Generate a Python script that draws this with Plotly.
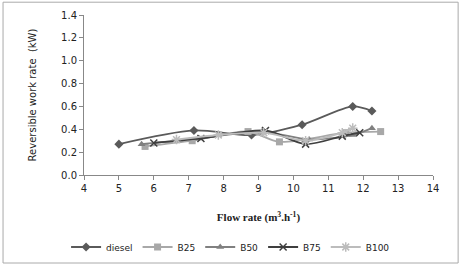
import plotly.graph_objects as go

diesel_x = [5.0, 7.15, 8.8, 10.25, 11.7, 12.25]
diesel_y = [0.27, 0.39, 0.35, 0.44, 0.60, 0.56]
b25_x = [5.75, 7.1, 8.7, 9.6, 11.5, 12.5]
b25_y = [0.25, 0.30, 0.38, 0.29, 0.37, 0.38]
b50_x = [5.65, 7.3, 9.1, 10.45, 11.7, 12.25]
b50_y = [0.27, 0.32, 0.38, 0.31, 0.35, 0.41]
b75_x = [6.0, 7.35, 9.2, 10.35, 11.4, 11.9]
b75_y = [0.28, 0.32, 0.39, 0.27, 0.34, 0.37]
b100_x = [6.65, 7.85, 9.15, 10.35, 11.4, 11.7]
b100_y = [0.31, 0.35, 0.37, 0.30, 0.37, 0.41]

x_ticks = [4, 5, 6, 7, 8, 9, 10, 11, 12, 13, 14]
y_ticks = [0.0, 0.2, 0.4, 0.6, 0.8, 1.0, 1.2, 1.4]

series = [
    ("diesel", diesel_x, diesel_y, "#5a5a5a", "diamond", 7, False),
    ("B25", b25_x, b25_y, "#a8a8a8", "square", 7, False),
    ("B50", b50_x, b50_y, "#808080", "triangle-up", 7, False),
    ("B75", b75_x, b75_y, "#3f3f3f", "x-thin-open", 7, True),
    ("B100", b100_x, b100_y, "#bcbcbc", "asterisk-open", 8, True),
]

fig = go.Figure()
for name, xs, ys, col, sym, sz, openm in series:
    marker = dict(symbol=sym, size=sz, color=col)
    if openm:
        marker["line"] = dict(color=col, width=1.5)
    fig.add_trace(go.Scatter(
        x=xs, y=ys, name=name, mode="lines+markers",
        line=dict(color=col, width=1.8, shape="spline", smoothing=0.8),
        marker=marker,
    ))

fig.update_layout(
    width=462, height=268,
    margin=dict(l=84, r=29, t=15, b=93, autoexpand=False),
    paper_bgcolor="white", plot_bgcolor="white",
    font=dict(family="DejaVu Sans", size=10, color="#222222"),
    showlegend=True,
    legend=dict(orientation="h", x=0.42, xanchor="center", y=-0.45, yanchor="middle",
                font=dict(size=9, family="DejaVu Sans"), itemwidth=30, tracegroupgap=0),
    xaxis=dict(range=[4, 14], tickvals=x_ticks, ticks="outside", ticklen=4,
               tickcolor="#888888", showline=True, linecolor="#888888", linewidth=1,
               showgrid=False, zeroline=False, automargin=False,
               tickfont=dict(size=10, family="DejaVu Sans"),
               title=dict(text="<b>Flow rate (m<sup>3</sup>.h<sup>-1</sup>)</b>",
                          font=dict(family="Liberation Serif", size=11), standoff=20)),
    yaxis=dict(range=[0, 1.4], tickvals=y_ticks, tickformat=".1f", ticks="outside", ticklen=4,
               tickcolor="#888888", showline=True, linecolor="#888888", linewidth=1,
               showgrid=False, zeroline=False, automargin=False,
               tickfont=dict(size=10, family="DejaVu Sans"),
               title=dict(text="Reversible work rate  (kW)",
                          font=dict(family="DejaVu Sans", size=10), standoff=22)),
    shapes=[dict(type="rect", xref="paper", yref="paper", x0=-0.232, x1=1.072, y0=-0.55, y1=1.08,
                 line=dict(color="#aaaaaa", width=1), layer="above")],
)

fig.write_html("out.html", config={"displayModeBar": False},
               post_script="document.body.style.margin='0';document.body.style.overflow='hidden';")
